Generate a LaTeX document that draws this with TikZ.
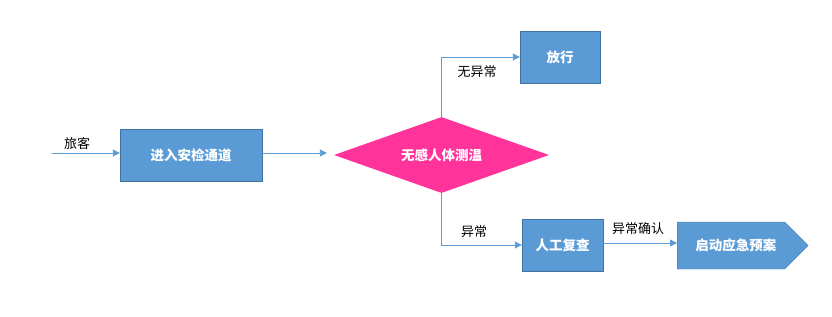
\documentclass[tikz,border=0pt]{standalone}
\usepackage{fontspec}
\setmainfont{Noto Sans CJK SC}
\usetikzlibrary{shapes.geometric, shapes.symbols, arrows.meta}
\definecolor{boxblue}{HTML}{5B9BD5}
\definecolor{boxline}{HTML}{41719C}
\definecolor{checkpink}{HTML}{FF3399}
\tikzset{
  stepbox/.style={draw=boxline, fill=boxblue, text=white, font=\fontsize{13.5}{15}\selectfont\bfseries,
    minimum width=81pt, minimum height=52pt, inner sep=0pt},
  flow/.style={draw=boxblue, line width=0.9pt, -{Triangle[length=7pt,width=7pt]}},
  lab/.style={font=\fontsize{13}{15}\selectfont, inner sep=0pt}
}
\begin{document}
\begin{tikzpicture}[x=1pt, y=-1pt]
  \useasboundingbox (0,0) rectangle (832,316);
  % 入口
  \coordinate (in) at (52,153);
  \node[lab] (passenger) at (77,143) {旅客};

  % 流程框
  \node[stepbox, minimum width=142pt] (enter) at (191,155) {进入安检通道};
  \node[diamond, fill=checkpink, text=white, font=\fontsize{13.5}{15}\selectfont\bfseries,
    minimum width=215pt, minimum height=76pt, inner sep=0pt, aspect=2.8] (temp) at (441.5,155) {无感人体测温};
  \node[stepbox, minimum width=80pt] (pass) at (560,57) {放行};
  \node[stepbox] (recheck) at (562.5,245) {人工复查};
  \node[signal, signal to=east, signal pointer angle=90, draw=boxline, fill=boxblue, text=white,
    font=\fontsize{13.5}{15}\selectfont\bfseries, minimum width=131pt, minimum height=47pt,
    inner sep=0pt, anchor=west] (plan) at (677,245.5) {\hspace*{10pt}启动应急预案};

  % 连线
  \draw[flow] (in) -- (enter.west |- in);
  \draw[flow] (enter.east |- in) -- ([xshift=-7pt]temp.west |- in);
  \draw[flow] (temp.north) |- (pass.west);
  \draw[flow] ([yshift=4pt]temp.south) |- (recheck.west);
  \draw[flow] (recheck.east |- 0,243) -- (plan.west |- 0,243);

  % 标注
  \node[lab] (normal) at (477,72) {无异常};
  \node[lab] (abnormal) at (474,232) {异常};
  \node[lab] (confirm) at (638,229) {异常确认};
\end{tikzpicture}
\end{document}
